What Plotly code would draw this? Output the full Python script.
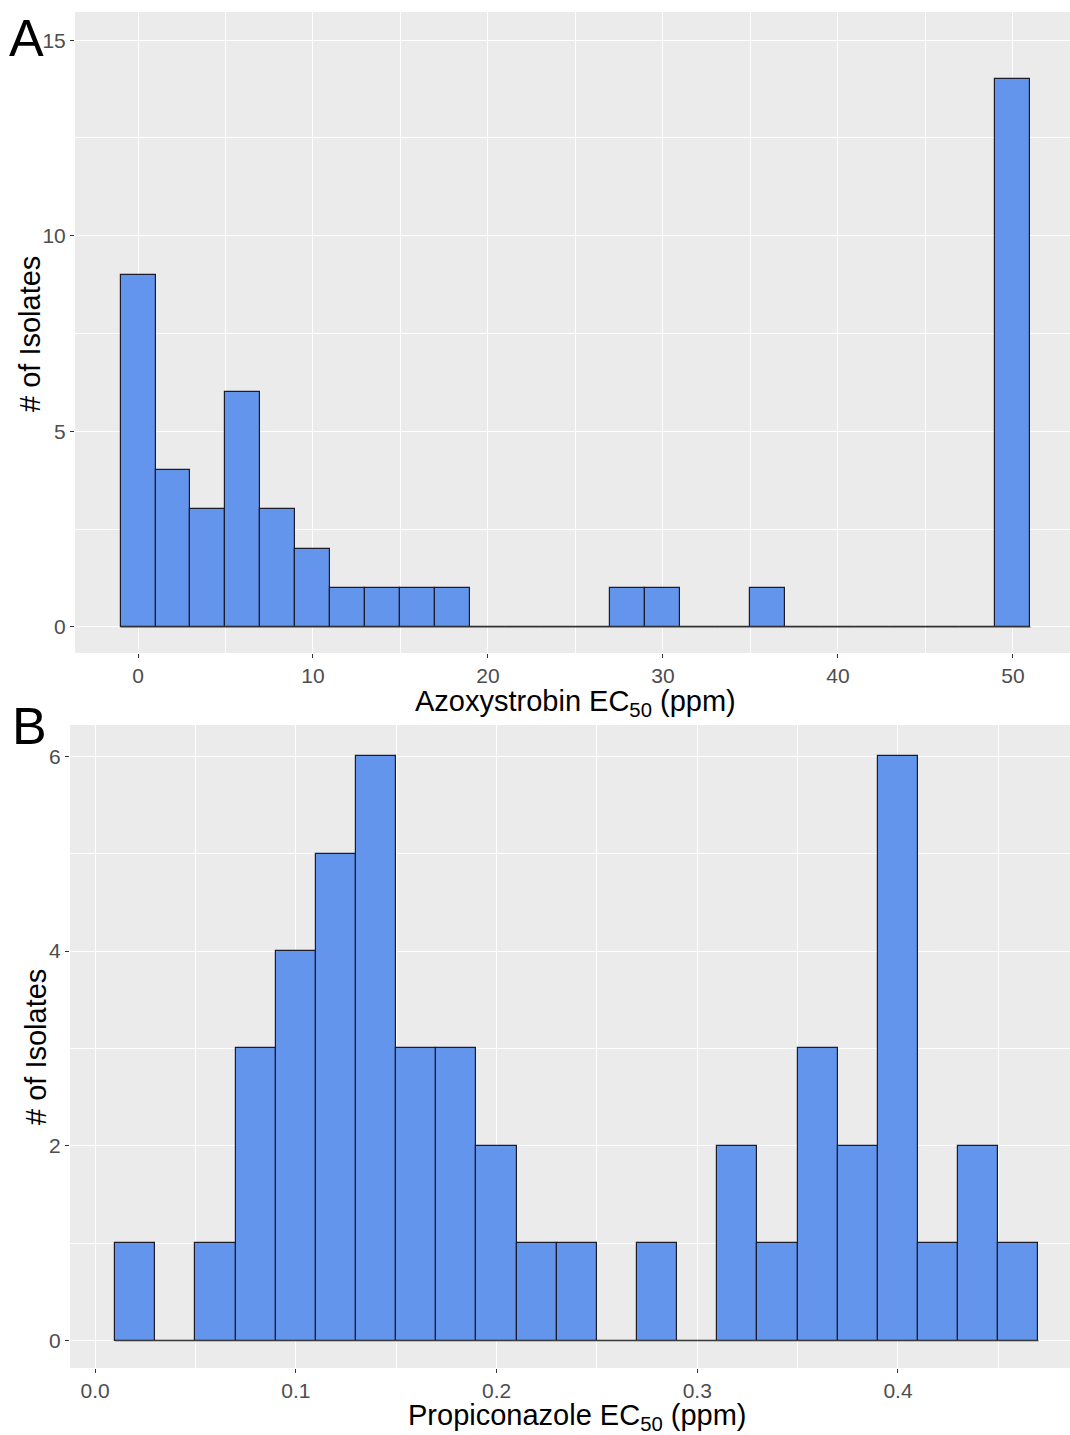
import plotly.graph_objects as go

# ---------------- data ----------------
azo_bin_centers = [0, 2, 4, 6, 8, 10, 12, 14, 16, 18, 20, 22, 24, 26, 28, 30,
                   32, 34, 36, 38, 40, 42, 44, 46, 48, 50]
azo_counts = [9, 4, 3, 6, 3, 2, 1, 1, 1, 1, 0, 0, 0, 0, 1, 1,
              0, 0, 1, 0, 0, 0, 0, 0, 0, 14]
azo_bin_width = 2

pro_bin_centers = [0.02, 0.04, 0.06, 0.08, 0.10, 0.12, 0.14, 0.16, 0.18, 0.20,
                   0.22, 0.24, 0.26, 0.28, 0.30, 0.32, 0.34, 0.36, 0.38, 0.40,
                   0.42, 0.44, 0.46]
pro_counts = [1, 0, 1, 3, 4, 5, 6, 3, 3, 2,
              1, 1, 0, 1, 0, 2, 1, 3, 2, 6,
              1, 2, 1]
pro_bin_width = 0.02

azo_x_ticks = [0, 10, 20, 30, 40, 50]
azo_y_ticks = [0, 5, 10, 15]
pro_x_ticks = [0.0, 0.1, 0.2, 0.3, 0.4]
pro_y_ticks = [0, 2, 4, 6]

# ---------------- style ----------------
W, H = 1070, 1435
FONT = "Liberation Sans, Arial, sans-serif"
BAR_FILL = "#6495ED"
BAR_LINE = "#1c1c2a"
PANEL_BG = "#EBEBEB"
TICK_COL = "#4D4D4D"


def px_x(p):
    return p / W


def px_y(p):
    return 1 - p / H


fig = go.Figure()

# baseline along zero-count bins (ggplot draws outlines of empty bins)
fig.add_trace(go.Scatter(
    x=[azo_bin_centers[0] - azo_bin_width / 2, azo_bin_centers[-1] + azo_bin_width / 2],
    y=[0, 0], mode="lines", line=dict(color="#3a3a3a", width=1.2),
    xaxis="x", yaxis="y", showlegend=False, hoverinfo="skip"))
fig.add_trace(go.Bar(
    x=azo_bin_centers, y=azo_counts, width=azo_bin_width,
    marker=dict(color=BAR_FILL, line=dict(color=BAR_LINE, width=1.2)),
    xaxis="x", yaxis="y", showlegend=False))

fig.add_trace(go.Scatter(
    x=[pro_bin_centers[0] - pro_bin_width / 2, pro_bin_centers[-1] + pro_bin_width / 2],
    y=[0, 0], mode="lines", line=dict(color="#3a3a3a", width=1.2),
    xaxis="x2", yaxis="y2", showlegend=False, hoverinfo="skip"))
fig.add_trace(go.Bar(
    x=pro_bin_centers, y=pro_counts, width=pro_bin_width,
    marker=dict(color=BAR_FILL, line=dict(color=BAR_LINE, width=1.2)),
    xaxis="x2", yaxis="y2", showlegend=False))

common_axis = dict(
    showgrid=True, gridcolor="white", gridwidth=1.4, zeroline=False,
    showline=False, ticks="outside", ticklen=4, tickwidth=1.1,
    tickcolor="#333333", tickfont=dict(family=FONT, size=21, color=TICK_COL),
)

fig.update_layout(
    width=W, height=H,
    margin=dict(l=0, r=0, t=0, b=0),
    paper_bgcolor="white", plot_bgcolor=PANEL_BG,
    bargap=0, showlegend=False,
    xaxis=dict(common_axis, domain=[px_x(75), 1], range=[-3.6, 53.26],
               tickvals=azo_x_ticks, anchor="y",
               minor=dict(tickvals=[-5, 5, 15, 25, 35, 45], showgrid=True,
                          gridcolor="white", gridwidth=0.7)),
    yaxis=dict(common_axis, domain=[px_y(653), px_y(12)], range=[-0.67, 15.72],
               tickvals=azo_y_ticks, anchor="x",
               minor=dict(tickvals=[2.5, 7.5, 12.5], showgrid=True,
                          gridcolor="white", gridwidth=0.7)),
    xaxis2=dict(common_axis, domain=[px_x(70), 1], range=[-0.0125, 0.4857],
                tickvals=pro_x_ticks, tickformat=".1f", anchor="y2",
                minor=dict(tickvals=[0.05, 0.15, 0.25, 0.35, 0.45], showgrid=True,
                           gridcolor="white", gridwidth=0.7)),
    yaxis2=dict(common_axis, domain=[px_y(1368), px_y(725)], range=[-0.28, 6.32],
                tickvals=pro_y_ticks, anchor="x2",
                minor=dict(tickvals=[1, 3, 5], showgrid=True,
                           gridcolor="white", gridwidth=0.7)),
)

title_font = dict(family=FONT, size=29, color="black")
annotations = [
    dict(text="Azoxystrobin EC<sub>50</sub> (ppm)", x=px_x(575), y=px_y(703),
         xref="paper", yref="paper", xanchor="center", yanchor="middle",
         showarrow=False, font=title_font),
    dict(text="Propiconazole EC<sub>50</sub> (ppm)", x=px_x(577), y=px_y(1417),
         xref="paper", yref="paper", xanchor="center", yanchor="middle",
         showarrow=False, font=title_font),
    dict(text="# of Isolates", x=px_x(30), y=px_y(334), textangle=-90,
         xref="paper", yref="paper", xanchor="center", yanchor="middle",
         showarrow=False, font=title_font),
    dict(text="# of Isolates", x=px_x(36), y=px_y(1047), textangle=-90,
         xref="paper", yref="paper", xanchor="center", yanchor="middle",
         showarrow=False, font=title_font),
    dict(text="A", x=px_x(7), y=px_y(38), xref="paper", yref="paper",
         xanchor="left", yanchor="middle", showarrow=False,
         font=dict(family=FONT, size=52, color="black")),
    dict(text="B", x=px_x(10), y=px_y(726), xref="paper", yref="paper",
         xanchor="left", yanchor="middle", showarrow=False,
         font=dict(family=FONT, size=52, color="black")),
]
fig.update_layout(annotations=annotations)

fig.write_html(
    "out.html",
    config={"displayModeBar": False},
    post_script="document.body.style.margin='0';document.body.style.overflow='hidden';",
)
